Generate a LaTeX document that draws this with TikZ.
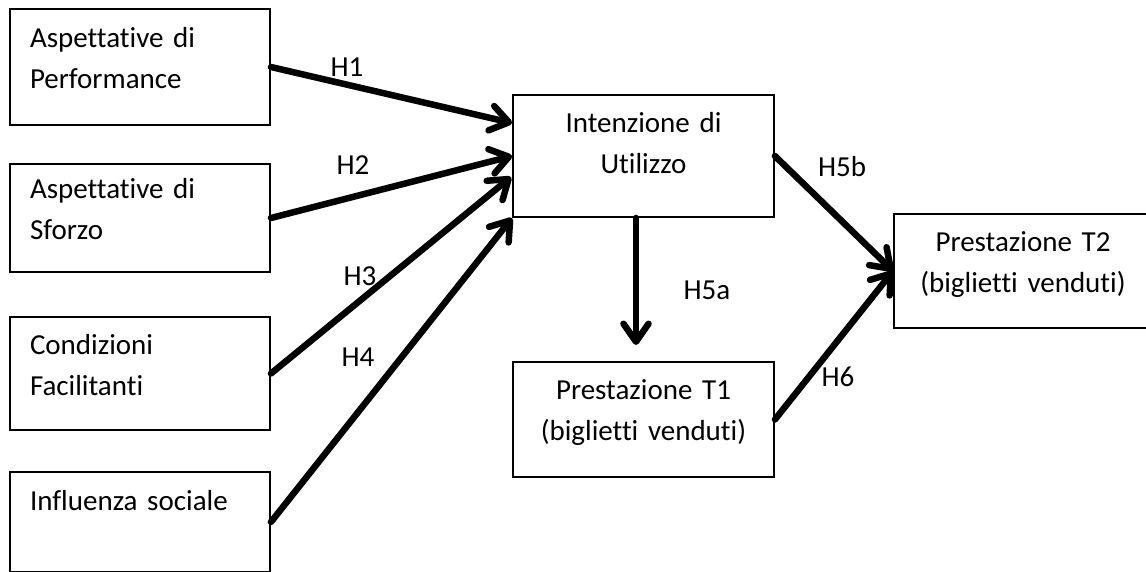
\documentclass[tikz,border=0pt]{standalone}
\usepackage{fontspec}
\setmainfont{Carlito}[Ligatures=NoCommon]
\usetikzlibrary{arrows.meta,calc}

\begin{document}
\begin{tikzpicture}[
  x=1pt, y=1pt,
  every node/.style={font=\fontsize{29}{41.5}\selectfont},
  box/.style={draw=black, line width=1.9pt, rectangle, inner ysep=0pt,
              text height=37pt},
  leftbox/.style={box, align=left, inner xsep=20pt, text width=220pt},
  midbox/.style={box, align=center, inner xsep=6pt, text width=249pt},
  link/.style={line width=6.5pt, line cap=round,
               -{Straight Barb[length=18pt, width=25pt, line cap=round, line join=round]}},
  hyp/.style={inner sep=0pt}
]
\useasboundingbox (0,0) rectangle (1146,-571);

% predictors on the left
\node[leftbox, text height=38pt, text depth=78pt] (pe) at (140,-67)    {Aspettative di\\Performance};
\node[leftbox, text height=34pt, text depth=74pt] (se) at (140,-218)   {Aspettative di\\Sforzo};
\node[leftbox, text depth=76pt] (cf) at (140,-373.5) {Condizioni\\Facilitanti};
\node[leftbox, text height=38pt, text depth=62pt] (is) at (140,-522)   {Influenza sociale};

% intention and outcomes
\node[midbox, text depth=85pt] (iu) at (643.5,-156)   {Intenzione di\\Utilizzo};
\node[midbox, text depth=78pt] (p1) at (643.5,-419.5) {Prestazione T1\\(biglietti venduti)};
\node[box, align=center, inner xsep=6pt, text width=246pt, text depth=77pt]
  (p2) at (1023,-271) {Prestazione T2\\(biglietti venduti)};

% hypothesised paths
\draw[link] (pe.east) -- ($(iu.west)+(0,33)$);
\draw[link] (se.east) -- (iu.west);
\draw[link] (cf.east) -- ($(iu.west)+(-1,-21)$);
\draw[link] (is.east) -- (iu.south west);
\coordinate (h5aend) at ($(p1.north)+(-7.5,-17)$);
\draw[link] ($(iu.south)+(-7.5,0)$) -- (h5aend |- 0,-345);
\draw[link] (iu.east) -- (p2.west);
\draw[link] (p1.east) -- (p2.west);

% path labels
\node[hyp] (l1)  at (347,-67)  {H1};
\node[hyp] (l2)  at (353,-165) {H2};
\node[hyp] (l3)  at (360,-276) {H3};
\node[hyp] (l4)  at (358,-357) {H4};
\node[hyp] (l5a) at (707,-290) {H5a};
\node[hyp] (l5b) at (842,-167) {H5b};
\node[hyp] (l6)  at (838,-377) {H6};
\end{tikzpicture}
\end{document}
